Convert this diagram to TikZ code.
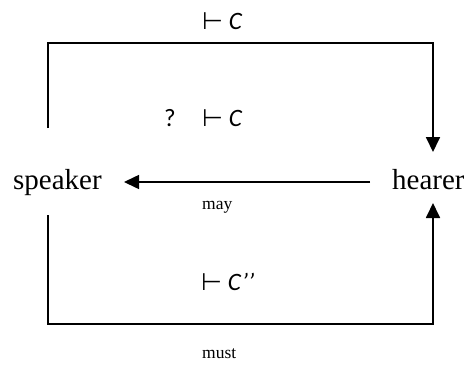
\documentclass[tikz,border=0pt]{standalone}
\usepackage{fontspec}
\setmainfont{Liberation Serif}
\newfontfamily\carl{Carlito}
\newfontfamily\djv{DejaVu Sans}
\usetikzlibrary{arrows.meta}
\newcommand\tstile{{\djv\fontsize{24}{26}\selectfont ⊢}}
\begin{document}
\begin{tikzpicture}[x=1pt,y=-1pt,
  conn/.style={line width=1.8pt, -{Triangle[length=15pt,width=14pt]}},
  party/.style={font=\fontsize{29}{30}\selectfont, inner sep=0pt, anchor=base west},
  lab/.style={font=\carl\fontsize{25}{27}\selectfont, inner sep=0pt, anchor=west},
  modal/.style={font=\fontsize{17.5}{19}\selectfont, inner sep=0pt, anchor=west}]
\useasboundingbox (0,0) rectangle (464,365);
\node[party] (speaker) at (13,189) {speaker};
\node[party] (hearer) at (392,189) {hearer};
\coordinate (sTop) at (48,128);
\coordinate (sBot) at (48,215);
\coordinate (hTop) at (433,152);
\coordinate (hBot) at (433,203);
\coordinate (hLeft) at (370,182);
\coordinate (sRight) at (124,182);
\draw[conn] (sTop) -- (48,43) -- (433,43) -- (hTop);
\draw[conn] (sBot) -- (48,324) -- (433,324) -- (hBot);
\draw[conn, line width=1.5pt] (hLeft) -- (sRight);
\node[lab] (tc) at (202,21) {\tstile\ \itshape C};
\node[lab] (q) at (164,118) {?};
\node[lab] (mc) at (202,118) {\tstile\ \itshape C};
\node[lab] (bc) at (201,282) {\tstile\ \itshape C’’};
\node[modal] (may) at (202,207) {may};
\node[modal] (must) at (202,354) {must};
\end{tikzpicture}
\end{document}
